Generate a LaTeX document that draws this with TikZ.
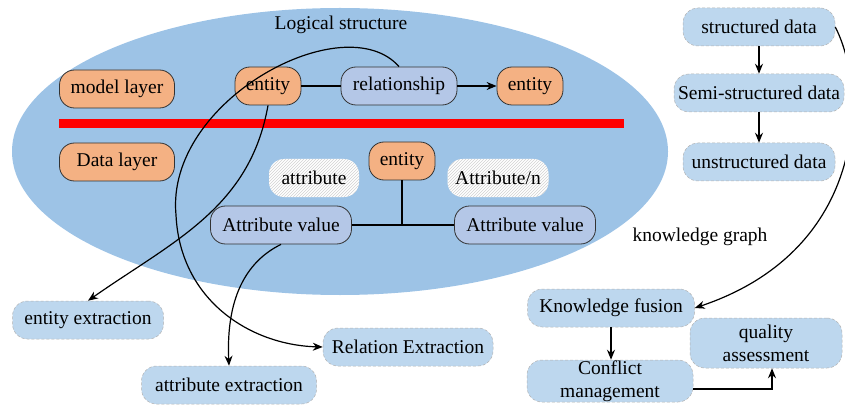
\documentclass[tikz,border=0pt]{standalone}
\usepackage{fontspec}
\setmainfont{Liberation Serif}
\usetikzlibrary{patterns,arrows.meta}
\definecolor{ellblue}{RGB}{157,195,230}
\definecolor{nodeorange}{RGB}{244,177,131}
\definecolor{nodelav}{RGB}{180,199,231}
\definecolor{nodeblue}{RGB}{189,215,238}
\tikzset{
  pill/.style={rectangle, rounded corners=15pt, minimum height=38pt, inner xsep=2pt,
    font=\fontsize{19.5}{23}\selectfont},
  orangebox/.style={pill, draw=black!80, line width=0.8pt, fill=nodeorange},
  lavbox/.style={pill, draw=black!80, line width=0.8pt, fill=nodelav},
  bluebox/.style={pill, draw=gray!60, densely dashed, line width=0.5pt, fill=nodeblue},
  hatchbox/.style={pill, preaction={fill=white}, pattern=north east lines, pattern color=gray!35},
  link/.style={line width=1.3pt},
  flow/.style={line width=1.2pt, -{Stealth[length=10pt,width=8pt]}}
}
\begin{document}
\begin{tikzpicture}[x=1pt,y=-1pt]
  \useasboundingbox (0,0) rectangle (845,406);
  \fill[ellblue] (340,151.5) ellipse [x radius=328, y radius=143.5];
  \fill[red] (59,119) rectangle (624,128);
  \node[font=\fontsize{19.5}{23}\selectfont] (title) at (341,25) {Logical structure};
  \node[orangebox, minimum width=115pt] (modellayer) at (117,89) {model layer};
  \node[orangebox, minimum width=66pt] (entity1) at (268,86) {entity};
  \node[lavbox, minimum width=116pt] (relationship) at (399,86) {relationship};
  \node[orangebox, minimum width=66pt] (entity2) at (530,86) {entity};
  \node[orangebox, minimum width=115pt] (datalayer) at (117,162) {Data layer};
  \node[orangebox, minimum width=66pt] (entity3) at (402,161) {entity};
  \node[hatchbox, minimum width=90pt] (attribute) at (314,178) {attribute};
  \node[hatchbox, minimum width=101pt] (attributen) at (498,178) {Attribute/n};
  \node[lavbox, minimum width=141pt] (attrvalue1) at (281,225) {Attribute value};
  \node[lavbox, minimum width=141pt] (attrvalue2) at (525,225) {Attribute value};
  \node[bluebox, minimum width=151pt] (entityext) at (88,320) {entity extraction};
  \node[bluebox, minimum width=170pt] (relationext) at (408,347) {Relation Extraction};
  \node[bluebox, minimum width=175pt] (attrext) at (229,385) {attribute extraction};
  \node[bluebox, minimum width=152pt] (structured) at (759,27) {structured data};
  \node[bluebox, minimum width=170pt] (semistructured) at (759,93) {Semi-structured data};
  \node[bluebox, minimum width=152pt] (unstructured) at (759,162) {unstructured data};
  \node[font=\fontsize{19.5}{23}\selectfont] (kgraph) at (700,237) {knowledge graph};
  \node[bluebox, minimum width=167pt] (fusion) at (611,308) {Knowledge fusion};
  \node[bluebox, minimum width=152pt, minimum height=50pt, inner ysep=1pt, align=center] (quality) at (766,343) {quality\\assessment};
  \node[bluebox, minimum width=166pt, minimum height=42pt, inner ysep=0pt, align=center] (conflict) at (610,381) {Conflict\\management};
  \begin{scope}[link]
    \draw (entity1.east) to (relationship.west);
    \draw (attrvalue1.east) to (attrvalue2.west);
    \draw (entity3.south) to (entity3.south |- attrvalue1.east);
  \end{scope}
  \begin{scope}[flow]
    \draw (relationship.east) to (entity2.west);
    \draw (entity1.south) to[out=-100,in=35] (entityext.north);
    \draw (relationship.north) .. controls (345,5) and (165,100) .. (176,215)
      .. controls (180,300) and (250,345) .. (relationext.west);
    \draw (attrvalue1.south) .. controls (245,262) and (226,300) .. (attrext.north);
    \draw (structured.south) to (semistructured.north);
    \draw (semistructured.south) to (unstructured.north);
    \draw (structured.east) .. controls (868,90) and (868,250) .. (fusion.east);
    \draw (fusion.south) to (fusion.south |- conflict.north);
    \draw ([yshift=-8pt]conflict.east) -| ([xshift=6pt]quality.south);
  \end{scope}
\end{tikzpicture}
\end{document}
